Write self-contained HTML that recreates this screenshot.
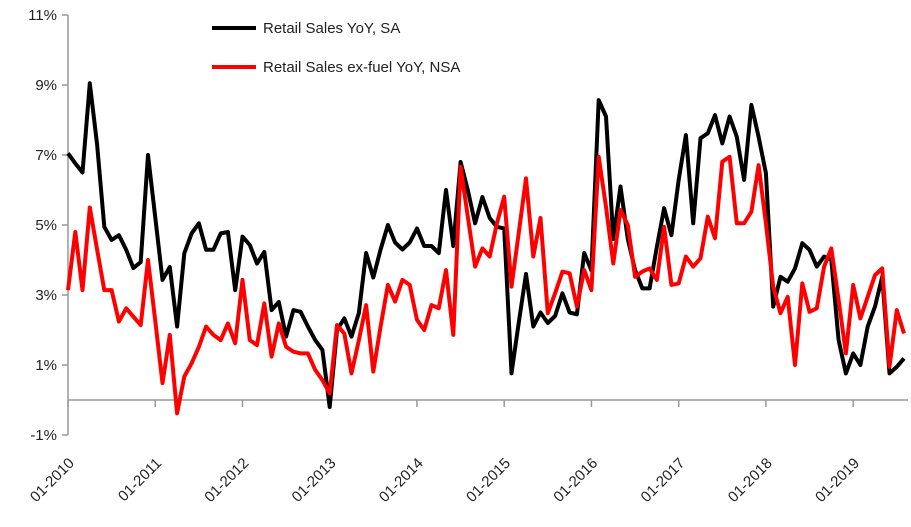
<!DOCTYPE html>
<html><head><meta charset="utf-8"><style>
body{margin:0;background:#fff;}
svg text{font-family:"Liberation Sans",sans-serif;font-size:15px;fill:#222;}
</style></head><body>
<svg id="chart" width="911" height="522" xmlns="http://www.w3.org/2000/svg">
<g id="axes"></g><g id="series"></g>
<g>
<line x1="212" y1="28" x2="256" y2="28" stroke="#000" stroke-width="4"/>
<text x="263" y="33">Retail Sales YoY, SA</text>
<line x1="212" y1="67" x2="256" y2="67" stroke="#f00" stroke-width="4"/>
<text x="263" y="72">Retail Sales ex-fuel YoY, NSA</text>
</g>
</svg>
<script>
const yTicks=[-1,1,3,5,7,9,11];
const xLabels=["01-2010","01-2011","01-2012","01-2013","01-2014","01-2015","01-2016","01-2017","01-2018","01-2019"];
const salesSA=[7.05,6.76,6.5,9.05,7.3,4.95,4.57,4.71,4.29,3.77,3.94,7.0,5.23,3.43,3.8,2.1,4.19,4.76,5.05,4.29,4.29,4.76,4.8,3.14,4.67,4.43,3.9,4.23,2.57,2.8,1.81,2.57,2.52,2.1,1.71,1.43,
-0.2,2.0,2.33,1.81,2.48,4.2,3.5,4.3,5.0,4.5,4.3,4.5,4.9,4.4,4.4,4.2,6.0,4.4,6.8,6.0,5.05,5.8,5.2,4.95,4.9,0.76,2.2,3.6,2.1,2.5,2.2,2.4,3.05,2.5,2.45,4.2,3.7,8.57,8.1,4.6,6.1,4.6,
3.71,3.19,3.19,4.38,5.48,4.71,6.29,7.57,5.05,7.48,7.62,8.14,7.33,8.1,7.52,6.29,8.43,7.52,6.48,2.67,3.52,3.38,3.76,4.48,4.29,3.81,4.1,4.0,1.71,0.76,1.33,1.0,2.1,2.67,3.52,0.76,0.95,1.19];
const exFuelNSA=[3.14,4.8,3.14,5.5,4.3,3.14,3.14,2.24,2.62,2.38,2.14,4.0,2.28,0.48,1.86,-0.38,0.67,1.05,1.52,2.1,1.86,1.71,2.19,1.62,3.43,1.71,1.57,2.76,1.24,2.19,1.52,1.38,1.33,1.33,0.86,0.57,
0.19,2.14,1.9,0.76,1.7,2.71,0.81,2.1,3.29,2.81,3.43,3.29,2.29,2.0,2.71,2.62,3.71,1.86,6.67,5.24,3.81,4.33,4.1,5.05,5.81,3.24,4.76,6.33,4.1,5.2,2.48,3.05,3.67,3.62,2.67,3.71,3.14,6.95,5.52,3.9,5.43,5.0,
3.52,3.67,3.76,3.43,4.95,3.29,3.33,4.1,3.81,4.05,5.24,4.62,6.81,6.95,5.05,5.05,5.38,6.71,5.05,3.24,2.48,2.95,1.0,3.33,2.52,2.62,3.81,4.33,2.86,1.33,3.29,2.33,2.95,3.57,3.76,0.95,2.57,1.9];
const NS="http://www.w3.org/2000/svg";
const X0=68, MONTH=7.27;
const xs=i=>X0+i*MONTH;
const ys=v=>400-35*v;
const axes=document.getElementById('axes'), series=document.getElementById('series');
function mk(tag,attrs,parent){const e=document.createElementNS(NS,tag);for(const k in attrs)e.setAttribute(k,attrs[k]);parent.appendChild(e);return e;}
let yl=mk('line',{x1:X0,y1:ys(11),x2:X0,y2:ys(-1),stroke:'#999','stroke-width':1.5},axes);


yTicks.forEach(t=>{
 let tk=mk('line',{x1:X0-6,y1:ys(t),x2:X0,y2:ys(t),stroke:'#999','stroke-width':1.5},axes);
 
 
 let tx=mk('text',{x:X0-11,y:ys(t)+5,'text-anchor':'end'},axes);
 tx.textContent=t+'%';
 
 
});
let xl=mk('line',{x1:X0,y1:ys(0),x2:908,y2:ys(0),stroke:'#999','stroke-width':1.5},axes);


xLabels.forEach((l,k)=>{
 const x=xs(k*12);
 let tk=mk('line',{x1:x,y1:ys(0),x2:x,y2:ys(0)+7,stroke:'#999','stroke-width':1.5},axes);
 
 
 const lx=x+7, ly=464;
 let tx=mk('text',{x:lx,y:ly,'text-anchor':'end','font-size':'16',transform:`rotate(-45 ${lx} ${ly})`},axes);
 tx.textContent=l;
 
 
});
function line(data,color,name){
 const p=mk('polyline',{points:data.map((v,i)=>xs(i).toFixed(1)+','+ys(v).toFixed(1)).join(' '),fill:'none',stroke:color,'stroke-width':4,'stroke-linejoin':'round'},series);
 
 
}
line(salesSA,'#000','series-retail-sales-sa');
line(exFuelNSA,'#f00','series-retail-sales-ex-fuel-nsa');
</script>
</body></html>
